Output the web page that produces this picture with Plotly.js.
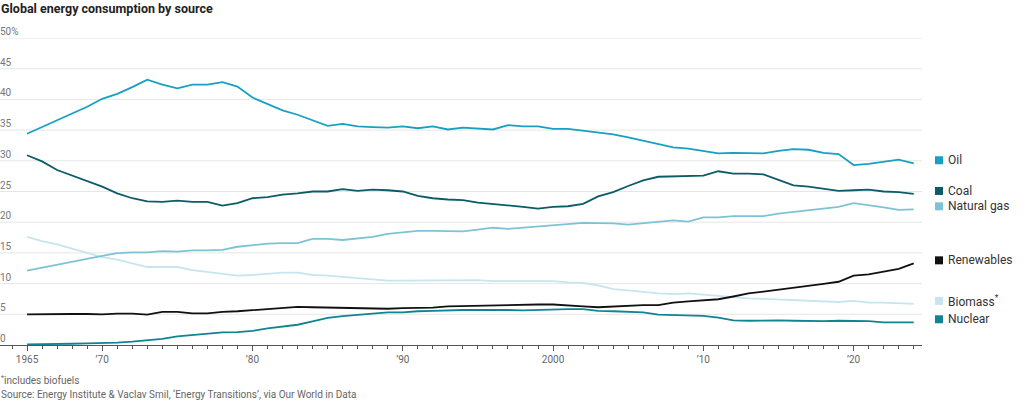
<!DOCTYPE html>
<html>
<head>
<meta charset="utf-8">
<script src="https://cdn.plot.ly/plotly-3.0.1.min.js"></script>
<style>
  html, body { margin: 0; padding: 0; background: #fff; }
  #chart { width: 1024px; height: 400px; }
</style>
</head>
<body>
<div id="chart"></div>
<script>
// ---- Data (share of global primary energy consumption, %) ----
const years = [];
for (let y = 1965; y <= 2024; y++) years.push(y);

const oil = [34.4,35.5,36.7,37.8,38.8,40.1,40.9,42.0,43.2,42.4,41.8,42.4,42.4,42.8,42.1,40.3,
  39.2,38.2,37.5,36.6,35.7,36.0,35.6,35.5,35.4,35.6,35.3,35.6,35.1,35.4,35.2,
  35.1,35.8,35.6,35.6,35.2,35.2,34.9,34.5,34.3,33.8,33.3,32.8,32.2,32.0,31.6,
  31.2,31.3,31.2,31.2,31.6,31.9,31.8,31.3,31.1,29.3,29.5,29.9,30.2,29.6];

const coal = [30.9,29.9,28.5,27.6,26.8,25.8,24.7,23.9,23.4,23.3,23.5,23.3,23.3,22.7,23.1,23.9,
  24.1,24.5,24.7,25.0,25.0,25.4,25.1,25.3,25.2,25.0,24.3,23.9,23.7,23.6,23.2,
  23.0,22.7,22.5,22.2,22.5,22.6,23.0,24.2,24.9,25.9,26.8,27.4,27.5,27.6,27.6,
  28.3,27.9,27.9,27.8,26.9,26.0,25.8,25.5,25.1,25.2,25.3,25.0,24.9,24.6];

const gas = [12.1,12.6,13.1,13.6,14.1,14.5,14.95,15.1,15.1,15.3,15.2,15.4,15.4,15.5,16.0,16.3,
  16.5,16.6,16.6,17.3,17.3,17.1,17.4,17.6,18.1,18.4,18.6,18.6,18.6,18.5,18.8,
  19.1,18.9,19.1,19.4,19.6,19.7,19.9,19.85,19.8,19.6,19.8,20.0,20.3,20.1,20.8,
  20.8,21.0,21.0,21.0,21.4,21.7,21.9,22.3,22.5,23.1,22.8,22.4,22.0,22.1];

const renewables = [5.0,5.05,5.05,5.05,5.05,5.0,5.1,5.1,4.95,5.4,5.4,5.15,5.15,5.4,5.5,5.7,
  5.8,6.0,6.2,6.15,6.1,6.1,6.0,6.0,5.9,6.0,6.0,6.1,6.3,6.35,6.5,
  6.5,6.55,6.6,6.6,6.6,6.5,6.3,6.15,6.3,6.35,6.5,6.5,6.9,7.1,7.25,
  7.45,7.9,8.4,8.7,9.0,9.25,9.6,9.95,10.3,11.3,11.5,12.0,12.4,13.3];

const biomass = [17.6,16.9,16.4,15.7,14.9,14.3,13.9,13.3,12.7,12.7,12.7,12.2,11.9,11.5,11.3,11.4,
  11.6,11.8,11.8,11.4,11.3,11.1,10.9,10.6,10.5,10.5,10.5,10.6,10.6,10.6,10.55,
  10.4,10.4,10.5,10.5,10.4,10.2,10.1,9.7,9.1,8.9,8.6,8.4,8.3,8.4,8.2,
  8.0,7.7,7.6,7.5,7.4,7.3,7.2,7.1,7.0,7.2,6.9,6.9,6.8,6.7];

const nuclear = [0.1,0.1,0.15,0.2,0.25,0.3,0.4,0.55,0.75,1.0,1.4,1.6,1.85,2.05,2.1,2.3,
  2.7,3.0,3.3,3.85,4.4,4.7,4.9,5.15,5.3,5.3,5.5,5.55,5.65,5.7,5.7,
  5.75,5.7,5.65,5.75,5.85,5.85,5.85,5.55,5.5,5.4,5.3,4.95,4.85,4.8,4.75,
  4.45,4.0,3.95,4.0,4.0,3.95,3.9,3.9,3.95,3.95,3.9,3.7,3.7,3.7];

const seriesNames = ["Oil", "Coal", "Natural gas", "Renewables", "Biomass<sup>*</sup>", "Nuclear"];
const seriesValues = [oil, coal, gas, renewables, biomass, nuclear];
const seriesColors = ["#16a1c2", "#0b5c68", "#7ec3d5", "#111111", "#c6e5ef", "#0f8493"];

const xTickVals = [1965, 1970, 1980, 1990, 2000, 2010, 2020];
const xTickText = ["1965", "\u201970", "\u201980", "\u201990", "2000", "\u201910", "\u201920"];
const yTickVals = [0, 5, 10, 15, 20, 25, 30, 35, 40, 45, 50];
const yTickText = ["0", "5", "10", "15", "20", "25", "30", "35", "40", "45", "50%"];

// ---- Traces ----
const drawOrder = [4, 2, 5, 3, 1, 0];
const traces = drawOrder.map(i => ({
  type: "scatter",
  mode: "lines",
  x: years,
  y: seriesValues[i],
  name: seriesNames[i],
  line: { color: seriesColors[i], width: 1.8 },
  hoverinfo: "skip"
}));

const FONT = "Roboto, 'Noto Sans', sans-serif";
const annotations = [];
const shapes = [];

// horizontal gridlines spanning the full width, with labels sitting on them
yTickVals.forEach((v, k) => {
  if (v !== 0) {
    shapes.push({
      type: "line", xref: "paper", yref: "y", x0: 0, x1: 1, y0: v, y1: v,
      line: { color: "#e6e6e6", width: 1 }, layer: "below"
    });
  }
  annotations.push({
    xref: "paper", yref: "y", x: 0, y: v,
    xanchor: "left", yanchor: "bottom", xshift: -2, yshift: -1,
    text: yTickText[k], showarrow: false,
    font: { family: FONT, size: 10, color: "#777" }
  });
});

// labels at line ends
seriesValues.forEach((vals, i) => {
  const last = vals[vals.length - 1];
  annotations.push({
    xref: "paper", yref: "y", x: 1, y: last,
    xanchor: "left", yanchor: "middle",
    xshift: 24, yshift: 3,
    text: seriesNames[i], showarrow: false,
    font: { family: FONT, size: 12, color: "#333" }
  });
  shapes.push({
    type: "rect", xref: "paper", yref: "y",
    xsizemode: "pixel", ysizemode: "pixel",
    xanchor: 1, yanchor: last,
    x0: 13, x1: 21, y0: -1, y1: 7,
    fillcolor: seriesColors[i], line: { width: 0 }
  });
});

annotations.push({
  xref: "paper", yref: "paper", x: 0, y: 1, xanchor: "left", yanchor: "middle",
  yshift: 30, xshift: -1,
  text: "<b>Global energy consumption by source</b>", showarrow: false,
  font: { family: FONT, size: 12.5, color: "#222" }
});
annotations.push({
  xref: "paper", yref: "paper", x: 0, y: 0, xanchor: "left", yanchor: "middle",
  yshift: -35, xshift: -1,
  text: "<sup>*</sup>includes biofuels", showarrow: false,
  font: { family: FONT, size: 10, color: "#666" }
});
annotations.push({
  xref: "paper", yref: "paper", x: 0, y: 0, xanchor: "left", yanchor: "middle",
  yshift: -49, xshift: -1,
  text: "Source: Energy Institute & Vaclav Smil, \u2018Energy Transitions\u2019, via Our World in Data",
  showarrow: false,
  font: { family: FONT, size: 10, color: "#666" }
});

const layout = {
  width: 1024, height: 400,
  margin: { l: 0, r: 102, t: 38, b: 55, pad: 0 },
  paper_bgcolor: "#fff", plot_bgcolor: "rgba(0,0,0,0)",
  showlegend: false,
  font: { family: FONT, color: "#666" },
  xaxis: {
    range: [1963.2, 2024.55],
    tickvals: xTickVals, ticktext: xTickText,
    ticks: "outside", ticklen: 5, tickcolor: "#555", tickwidth: 1,
    minor: { dtick: 1, tick0: 1965, ticks: "outside", ticklen: 3, tickcolor: "#555", tickwidth: 1, showgrid: false },
    showgrid: false, zeroline: false,
    showline: true, linecolor: "#555", linewidth: 1,
    tickfont: { family: FONT, size: 10, color: "#666" },
    fixedrange: true
  },
  yaxis: {
    range: [0, 50],
    showticklabels: false,
    ticks: "", showgrid: false,
    zeroline: false, showline: false,
    fixedrange: true
  },
  annotations: annotations,
  shapes: shapes
};

Plotly.newPlot("chart", traces, layout, { displayModeBar: false, staticPlot: true });
</script>
</body>
</html>
